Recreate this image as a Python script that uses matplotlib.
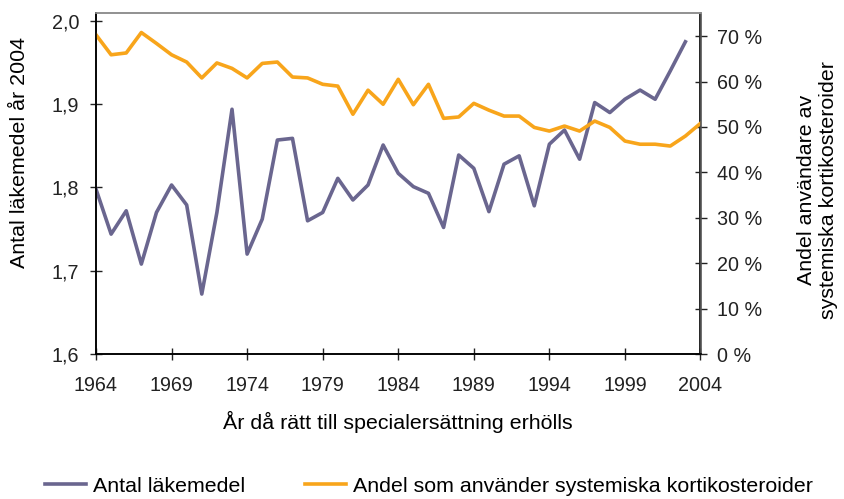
import numpy as np
import matplotlib
matplotlib.use("Agg")
import matplotlib.pyplot as plt
from matplotlib.ticker import FuncFormatter

plt.rcParams['font.family'] = ['Liberation Sans', 'DejaVu Sans']

# data
years_lak = list(range(1964, 2004))
antal_lakemedel = [1.798, 1.744, 1.772, 1.708, 1.770, 1.803, 1.779, 1.672, 1.770, 1.894,
                   1.720, 1.762, 1.857, 1.859, 1.760, 1.770, 1.811, 1.785, 1.803, 1.851,
                   1.817, 1.801, 1.793, 1.752, 1.839, 1.823, 1.771, 1.828, 1.838, 1.778,
                   1.852, 1.869, 1.834, 1.902, 1.890, 1.906, 1.917, 1.906, 1.940, 1.975]

years_kort = list(range(1964, 2005))
andel_kort = [70.3, 65.9, 66.3, 70.8, 68.4, 65.9, 64.3, 60.8, 64.1, 62.9,
              60.8, 64.0, 64.3, 61.0, 60.8, 59.4, 59.0, 52.8, 58.1, 55.0,
              60.5, 54.9, 59.4, 51.9, 52.2, 55.2, 53.7, 52.4, 52.4, 49.9,
              49.1, 50.2, 49.1, 51.3, 49.9, 46.9, 46.2, 46.2, 45.8, 48.0, 50.8]

xticks = list(range(1964, 2005, 5))
purple = "#6a668f"
orange = "#f8a51b"
fs_tick = 14.2
fs = 15.4

fig = plt.figure(figsize=(8.44, 4.99), dpi=100)
ax = fig.add_axes([96/844, 1 - 354/499, (700.5 - 96)/844, (354 - 13)/499])
ax2 = ax.twinx()

l1, = ax.plot(years_lak, antal_lakemedel, color=purple, lw=2.6, label="Antal läkemedel")
l2, = ax2.plot(years_kort, andel_kort, color=orange, lw=2.6, label="Andel som använder systemiska kortikosteroider")

ax.set_xlim(1964, 2004)
ax.set_ylim(1.6, 2.0 + 0.4 * 8 / 334)
ax2.set_ylim(0, 75.1)
ax.set_xticks(xticks)
ax.set_yticks([1.6, 1.7, 1.8, 1.9, 2.0])
ax2.set_yticks(range(0, 71, 10))
ax.yaxis.set_major_formatter(FuncFormatter(lambda v, p: f"{v:.1f}".replace(".", ",")))
ax2.yaxis.set_major_formatter(FuncFormatter(lambda v, p: f"{v:.0f} %"))

for a in (ax, ax2):
    a.tick_params(direction='inout', length=8, width=1, labelsize=fs_tick, colors="#222222")
ax.tick_params(axis='x', pad=12)
ax.tick_params(axis='y', pad=8)
ax2.tick_params(axis='y', pad=8)

ax.spines['top'].set_color("#909090")
ax2.spines['top'].set_color("#909090")
ax2.spines['right'].set_color("#555555")
ax.spines['left'].set_color("#222222")
ax.spines['bottom'].set_color("#222222")
for s in ax2.spines.values():
    s.set_linewidth(1.2)
for s in ax.spines.values():
    s.set_linewidth(1.2)

ax.set_xlabel("År då rätt till specialersättning erhölls", fontsize=fs)
ax.xaxis.set_label_coords(0.5, -0.168)
ax.set_ylabel("Antal läkemedel år 2004", fontsize=fs, va='center', ha='center')
ax.yaxis.set_label_coords(-0.127, 0.59)
ax2.set_ylabel("Andel användare av\nsystemiska kortikosteroider", fontsize=fs,
               rotation=90, va='center', ha='center', linespacing=1.2)
ax2.yaxis.set_label_coords(1.194, 0.48)

fig.legend([l1, l2], [l1.get_label(), l2.get_label()], loc='center', ncol=2,
           bbox_to_anchor=(0.508, 0.026), frameon=False, fontsize=fs,
           handlelength=1.93, handletextpad=0.3, columnspacing=2.8)

fig.savefig("out.png", dpi=100)
